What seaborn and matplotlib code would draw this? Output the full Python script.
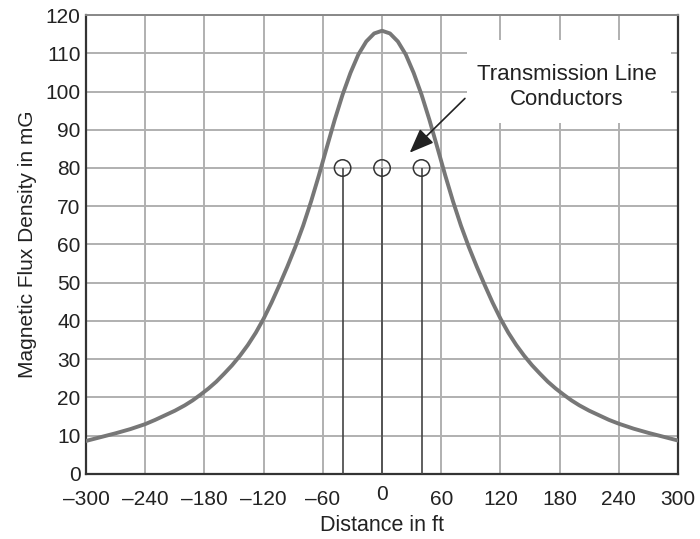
import matplotlib
matplotlib.use("Agg")
import matplotlib.pyplot as plt
import matplotlib.transforms as mtransforms
import seaborn as sns
import pandas as pd
from matplotlib.patches import Rectangle

# Magnetic flux density profile
distance_ft = [-300, -285, -270, -255, -240, -230, -220, -210, -200, -192, -184, -176, -168,
               -160, -152, -144, -136, -128, -120, -112, -104, -96, -88, -80, -72, -64, -56,
               -48, -40, -32, -24, -16, -8, 0,
               8, 16, 24, 32, 40, 48, 56, 64, 72, 80, 88, 96, 104, 112, 120, 128, 136, 144,
               152, 160, 168, 176, 184, 192, 200, 210, 220, 230, 240, 255, 270, 285, 300]
flux_mG = [8.6, 9.6, 10.6, 11.7, 13.0, 14.1, 15.3, 16.5, 17.9, 19.2, 20.7, 22.3, 24.1,
           26.2, 28.4, 30.9, 33.7, 36.9, 40.6, 44.8, 49.4, 54.2, 59.3, 64.9, 71.2, 78.1, 85.4,
           92.6, 99.2, 104.9, 109.7, 113.1, 115.2, 115.9,
           115.2, 113.1, 109.7, 104.9, 99.2, 92.6, 85.4, 78.1, 71.2, 64.9, 59.3, 54.2, 49.4,
           44.8, 40.6, 36.9, 33.7, 30.9, 28.4, 26.2, 24.1, 22.3, 20.7, 19.2, 17.9, 16.5, 15.3,
           14.1, 13.1, 11.8, 10.7, 9.7, 8.7]

# Conductors
conductor_x = [-40, 0, 40]
conductor_y = [80, 80, 80]

x_ticks = [-300, -240, -180, -120, -60, 0, 60, 120, 180, 240, 300]
y_ticks = [0, 10, 20, 30, 40, 50, 60, 70, 80, 90, 100, 110, 120]

annotation_text = "Transmission Line\nConductors"
x_label = "Distance in ft"
y_label = "Magnetic Flux Density in mG"

sns.set_theme(style="white")
plt.rcParams['font.family'] = ['Liberation Sans', 'DejaVu Sans']

fig = plt.figure(figsize=(7.0, 5.39), dpi=100)
ax = fig.add_axes([0.123, 0.121, 0.8456, 0.851])

df = pd.DataFrame({"x": distance_ft, "y": flux_mG})
sns.lineplot(data=df, x="x", y="y", ax=ax, color="#777777", linewidth=2.8, zorder=3,
             sort=False)

# conductor poles
ax.vlines(conductor_x, 0, conductor_y, colors="#444444", linewidth=1.2, zorder=4)
cdf = pd.DataFrame({"x": conductor_x, "y": conductor_y})
sns.scatterplot(data=cdf, x="x", y="y", ax=ax, s=140, facecolor="none",
                edgecolor="#333333", linewidth=1.1, zorder=5)

ax.set_xlim(-300, 300)
ax.set_ylim(0, 120)
ax.set_xticks(x_ticks)
ax.set_yticks(y_ticks)
ax.set_xticklabels(["\u2013" + str(abs(v)) if v < 0 else str(v) for v in x_ticks])
ax.set_yticklabels([str(v) for v in y_ticks])
ax.grid(True, color="#b0b0b0", linewidth=1.4)
ax.set_axisbelow(True)
ax.tick_params(axis="both", length=0, labelsize=15, colors="#222222")
ax.tick_params(axis="x", pad=12)
ax.tick_params(axis="y", pad=4)

# the "0" label sits slightly higher in the reference
for lbl in ax.get_xticklabels():
    if lbl.get_text() == "0":
        lbl.set_transform(lbl.get_transform() +
                          mtransforms.ScaledTranslation(0, 4 / 72, fig.dpi_scale_trans))

ax.set_xlabel(x_label, fontsize=15.5, color="#222222", labelpad=4)
ax.set_ylabel(y_label, fontsize=15, color="#222222", labelpad=6)

for side in ["left", "bottom", "right"]:
    ax.spines[side].set_color("#333333")
    ax.spines[side].set_linewidth(1.6)
ax.spines["top"].set_color("#888888")
ax.spines["top"].set_linewidth(1.4)

# white box behind annotation
ax.add_patch(Rectangle((86, 91.8), 207, 21.8, facecolor="white", edgecolor="none", zorder=1))
ax.text(187, 101.1, annotation_text, ha="center", va="center", fontsize=16,
        color="#222222", linespacing=1.25, zorder=6)
ax.annotate("", xy=(28, 84.0), xytext=(84, 98.2),
            arrowprops=dict(arrowstyle="-|>,head_length=1.25,head_width=0.5",
                            color="#222222", lw=1.2, shrinkA=0, shrinkB=0), zorder=6)

fig.savefig("out.png", dpi=100)
